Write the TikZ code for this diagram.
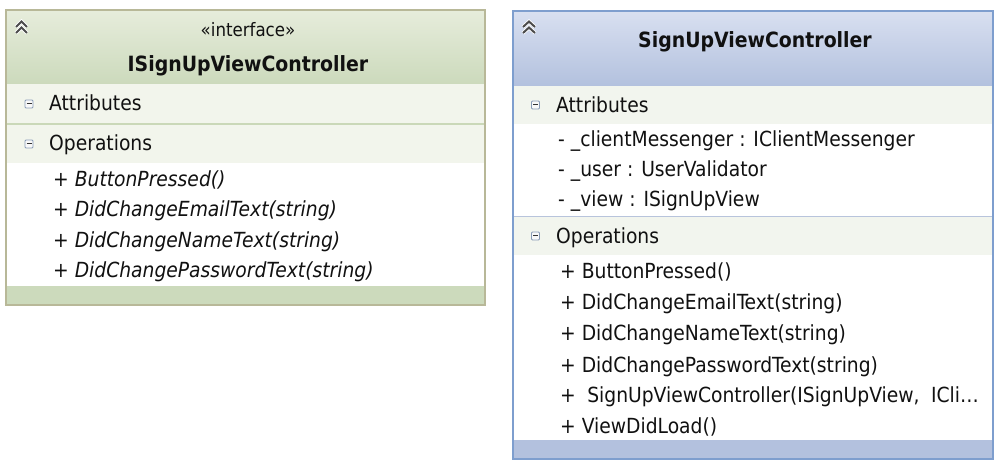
\documentclass[tikz,border=0pt]{standalone}
\usepackage{fontspec}
\setmainfont{DejaVu Sans Condensed}
\definecolor{gborder}{HTML}{B8B898}
\definecolor{gtop}{HTML}{E6ECDB}
\definecolor{gbot}{HTML}{CCDABC}
\definecolor{gband}{HTML}{F2F5EC}
\definecolor{gline}{HTML}{CAD8B8}
\definecolor{bborder}{HTML}{7E9ECE}
\definecolor{btop}{HTML}{D8DFF0}
\definecolor{bbot}{HTML}{B3C1DE}
\definecolor{bband}{HTML}{F2F5EE}
\definecolor{bline}{HTML}{B8C4DC}
\definecolor{txt}{HTML}{111111}
\definecolor{mbox}{HTML}{8A9CB8}
\begin{document}
\begin{tikzpicture}[x=1pt,y=-1pt,
  item/.style={anchor=base west, inner sep=0pt, text=txt, font=\fontsize{20.8}{24}\selectfont},
  itemi/.style={item, font=\fontsize{20.8}{24}\selectfont\itshape},
  ttl/.style={anchor=base, inner sep=0pt, text=txt, font=\fontsize{21}{25}\selectfont\bfseries},
  stereo/.style={anchor=base, inner sep=0pt, text=txt, font=\fontsize{18.5}{22}\selectfont},
  minusbox/.style={draw=mbox, fill=white!95!gray, line width=0.9pt, rounded corners=1pt, minimum width=8pt, minimum height=8pt, inner sep=0pt},
]
\useasboundingbox (0,0) rectangle (1004,470);
\fill[white] (0,0) rectangle (1004,470);

% ---------- left box ----------
\shade[top color=gtop, bottom color=gbot] (7,11) rectangle (484,84);
\fill[gband] (7,84) rectangle (484,163);
\draw[gline, line width=1.2pt] (7,124) -- (484,124);
\fill[white] (7,163) rectangle (484,286);
\fill[gbot] (7,286) rectangle (484,304);
\draw[gborder, line width=2pt] (6,10) rectangle (485,305);

\foreach \dy in {0,6}{
  \draw[white, line width=3.6pt] (16,27+\dy) -- (21.5,21.5+\dy) -- (27,27+\dy);
}
\foreach \dy in {0,6}{
  \draw[gray!60!black, line width=2pt] (16,27+\dy) -- (21.5,21.5+\dy) -- (27,27+\dy);
}
\node[stereo] (lst) at (248,37) {«interface»};
\node[ttl] (lname) at (248,72) {ISignUpViewController};

\node[minusbox] (lmA) at (29,104) {};
\draw[black!80, line width=1pt] (26.5,104) -- (31.5,104);
\node[item] (lattr) at (49,111) {Attributes};
\node[minusbox] (lmO) at (29,144) {};
\draw[black!80, line width=1pt] (26.5,144) -- (31.5,144);
\node[item] (lops) at (49,151) {Operations};

\node[itemi] (lo1) at (53,187) {+ ButtonPressed()};
\node[itemi] (lo2) at (53,217) {+ DidChangeEmailText(string)};
\node[itemi] (lo3) at (53,247.5) {+ DidChangeNameText(string)};
\node[itemi] (lo4) at (53,278) {+ DidChangePasswordText(string)};

% ---------- right box ----------
\shade[top color=btop, bottom color=bbot] (514,12) rectangle (992,86);
\fill[bband] (514,86) rectangle (992,124);
\fill[white] (514,124) rectangle (992,216);
\draw[bline, line width=1.2pt] (514,216.5) -- (992,216.5);
\fill[bband] (514,217) rectangle (992,255);
\fill[white] (514,255) rectangle (992,440);
\fill[bbot] (514,440) rectangle (992,458);
\draw[bborder, line width=2pt] (513,11) rectangle (993,459);

\foreach \dy in {0,6}{
  \draw[white, line width=3.6pt] (523,27+\dy) -- (529,21.5+\dy) -- (535,27+\dy);
}
\foreach \dy in {0,6}{
  \draw[gray!60!black, line width=2pt] (523,27+\dy) -- (529,21.5+\dy) -- (535,27+\dy);
}
\node[ttl] (rname) at (755,48) {SignUpViewController};

\node[minusbox] (rmA) at (535.5,105) {};
\draw[black!80, line width=1pt] (533,105) -- (538,105);
\node[item] (rattr) at (556,113) {Attributes};
\node[item] (ra1) at (558,147) {- \_clientMessenger : IClientMessenger};
\node[item] (ra2) at (558,177) {- \_user : UserValidator};
\node[item] (ra3) at (558,207) {- \_view : ISignUpView};

\node[minusbox] (rmO) at (535.5,236) {};
\draw[black!80, line width=1pt] (533,236) -- (538,236);
\node[item] (rops) at (556,243.5) {Operations};

\node[item] (ro1) at (560,279) {+ ButtonPressed()};
\node[item] (ro2) at (560,310) {+ DidChangeEmailText(string)};
\node[item] (ro3) at (560,341) {+ DidChangeNameText(string)};
\node[item] (ro4) at (560,372) {+ DidChangePasswordText(string)};
\node[item] (ro5) at (560,402) {+\hspace{0.55em}SignUpViewController(ISignUpView,\hspace{0.55em}ICli…};
\node[item] (ro6) at (560,433) {+ ViewDidLoad()};
\end{tikzpicture}
\end{document}
